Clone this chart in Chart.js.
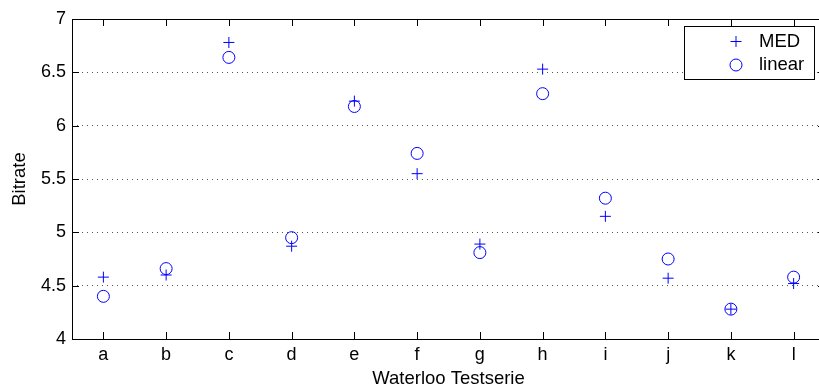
<!DOCTYPE html>
<html>
<head>
<meta charset="utf-8">
<script src="https://cdn.jsdelivr.net/npm/chart.js@4.4.0/dist/chart.umd.min.js"></script>
<style>
  html, body { margin: 0; padding: 0; overflow: hidden; background: #fff; }
  #wrap { width: 832px; height: 390px; }
</style>
</head>
<body>
<div id="wrap"><canvas id="bitrateChart" width="832" height="390"></canvas></div>
<script>
// Data
const categories = ['a', 'b', 'c', 'd', 'e', 'f', 'g', 'h', 'i', 'j', 'k', 'l'];
const medValues = [4.58, 4.60, 6.78, 4.87, 6.23, 5.55, 4.89, 6.53, 5.15, 4.57, 4.28, 4.52];
const linearValues = [4.40, 4.66, 6.64, 4.95, 6.18, 5.74, 4.81, 6.30, 5.32, 4.75, 4.28, 4.58];
const yTicks = [4, 4.5, 5, 5.5, 6, 6.5, 7];

const FONT = "'Liberation Sans', Arial, Helvetica, sans-serif";
const BLUE = '#0000ff';

// Draws the MATLAB-style box, inward tick marks and the legend
const matlabFrame = {
    id: 'matlabFrame',
    beforeDatasetsDraw(chart) {
        const { ctx, chartArea: a, scales: { x, y } } = chart;
        ctx.save();
        ctx.strokeStyle = '#000';
        ctx.lineWidth = 1;
        ctx.beginPath();
        ctx.rect(Math.round(a.left) + 0.5, Math.round(a.top) + 0.5,
                 Math.round(a.right - a.left), Math.round(a.bottom - a.top));
        ctx.stroke();
        ctx.beginPath();
        categories.forEach((c, i) => {
            const px = Math.round(x.getPixelForValue(i)) + 0.5;
            ctx.moveTo(px, a.bottom);
            ctx.lineTo(px, a.bottom - 7);
            ctx.moveTo(px, a.top);
            ctx.lineTo(px, a.top + 7);
        });
        yTicks.forEach(v => {
            const py = Math.round(y.getPixelForValue(v)) + 0.5;
            ctx.moveTo(a.left, py);
            ctx.lineTo(a.left + 7, py);
            ctx.moveTo(a.right, py);
            ctx.lineTo(a.right - 7, py);
        });
        ctx.stroke();
        ctx.restore();
    },
    afterDraw(chart) {
        const { ctx } = chart;
        ctx.save();
        // legend box
        ctx.fillStyle = '#fff';
        ctx.fillRect(684.5, 26.5, 130, 53);
        ctx.strokeStyle = '#000';
        ctx.lineWidth = 1;
        ctx.strokeRect(684.5, 26.5, 130, 53);
        // markers
        ctx.strokeStyle = BLUE;
        ctx.beginPath();
        ctx.moveTo(730.5, 41.5); ctx.lineTo(741.5, 41.5);
        ctx.moveTo(736, 36); ctx.lineTo(736, 47);
        ctx.stroke();
        ctx.beginPath();
        ctx.arc(736, 65, 6, 0, Math.PI * 2);
        ctx.stroke();
        // labels
        ctx.fillStyle = '#000';
        ctx.font = '18.5px ' + FONT;
        ctx.textBaseline = 'middle';
        ctx.textAlign = 'left';
        ctx.fillText('MED', 759, 42);
        ctx.fillText('linear', 759, 65);
        ctx.restore();
    }
};

const ctx = document.getElementById('bitrateChart').getContext('2d');
const bitrateChart = new Chart(ctx, {
    type: 'line',
    data: {
        labels: categories,
        datasets: [{
            label: 'MED',
            data: medValues,
            showLine: false,
            pointStyle: 'cross',
            pointRadius: 5.5,
            pointHoverRadius: 5.5,
            pointBorderWidth: 1,
            borderColor: BLUE,
            backgroundColor: 'rgba(0,0,0,0)'
        }, {
            label: 'linear',
            data: linearValues,
            showLine: false,
            pointStyle: 'circle',
            pointRadius: 6,
            pointHoverRadius: 6,
            pointBorderWidth: 1,
            borderColor: BLUE,
            backgroundColor: 'rgba(0,0,0,0)'
        }]
    },
    options: {
        responsive: false,
        animation: false,
        devicePixelRatio: 1,
        layout: { padding: { top: 19, right: 4, left: 0, bottom: 0 } },
        plugins: {
            legend: { display: false },
            tooltip: { enabled: false }
        },
        scales: {
            x: {
                type: 'category',
                offset: true,
                grid: { display: false, drawTicks: false },
                border: { display: false },
                ticks: {
                    color: '#000',
                    padding: 5,
                    font: { family: FONT, size: 18 },
                    maxRotation: 0
                },
                title: {
                    display: true,
                    text: 'Waterloo Testserie',
                    color: '#000',
                    font: { family: FONT, size: 18.5 },
                    padding: { top: 0, bottom: 0 }
                },
                afterFit(scale) { scale.height = 51; }
            },
            y: {
                min: 4,
                max: 7,
                afterBuildTicks(scale) { scale.ticks = yTicks.map(v => ({ value: v })); },
                grid: { color: '#555', lineWidth: 1, drawTicks: false },
                border: { display: false, dash: [1, 4] },
                ticks: {
                    color: '#000',
                    padding: 6,
                    font: { family: FONT, size: 18 },
                    callback: v => String(v)
                },
                title: {
                    display: true,
                    text: 'Bitrate',
                    color: '#000',
                    font: { family: FONT, size: 18.5 },
                    padding: { top: 9, bottom: 0 }
                },
                afterFit(scale) { scale.width = 72; }
            }
        }
    },
    plugins: [matlabFrame]
});
</script>
</body>
</html>
